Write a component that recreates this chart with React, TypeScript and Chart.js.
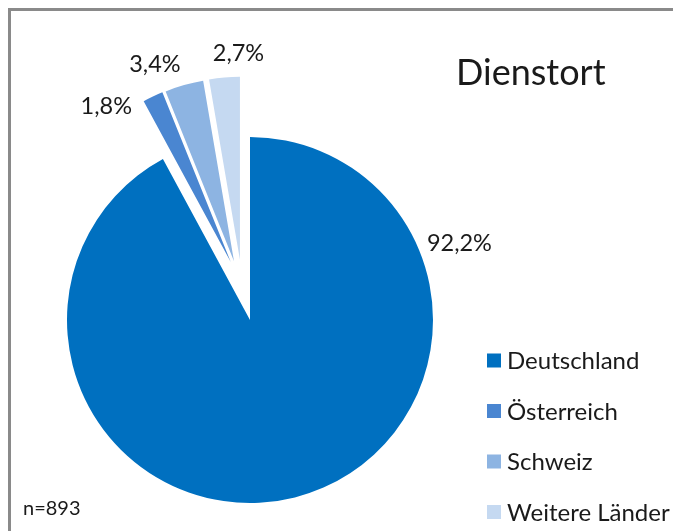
import React, { useEffect, useRef } from 'react';
import { Chart, registerables } from 'chart.js';

Chart.register(...registerables);

// ---- data ----
const categories = ['Deutschland', 'Österreich', 'Schweiz', 'Weitere Länder'];
const shares = [92.2, 1.8, 3.4, 2.7];
const valueLabels = ['92,2%', '1,8%', '3,4%', '2,7%'];
const chartTitle = 'Dienstort';
const sampleNote = 'n=893';

// ---- styles ----
const sliceColors = ['#0070C0', '#4A86D1', '#8DB4E2', '#C5D9F1'];
const explodeDistance = [0, 61, 61, 61];
const explodeDirection: (number | null)[] = [null, -108.4, -105.2, -99.5];
const labelAngle = [-20.1, -128.7, -111.9, -90.4];
const labelRadius = [223, 199, 212, 206];
const FONT = 'Lato, "Open Sans", sans-serif';
const TEXT = '#1a1a1a';

const rad = (d: number) => (d * Math.PI) / 180;

function explodedCenter(el: any, i: number) {
  const d = explodeDistance[i] || 0;
  const dir = explodeDirection[i];
  const a = dir == null ? (el.startAngle + el.endAngle) / 2 : rad(dir);
  return { x: el.x + Math.cos(a) * d, y: el.y + Math.sin(a) * d, a };
}

const explodePlugin = {
  id: 'explodeSlices',
  beforeDatasetDraw(chart: any, args: any) {
    args.meta.data.forEach((el: any, i: number) => {
      if (el.__exploded) return;
      const orig = el.draw;
      el.draw = function (ctx: CanvasRenderingContext2D, area: any) {
        const c = explodedCenter(this, i);
        ctx.save();
        ctx.translate(c.x - this.x, c.y - this.y);
        orig.call(this, ctx, area);
        ctx.restore();
      };
      el.__exploded = true;
    });
  },
};

const decorPlugin = {
  id: 'decor',
  afterDraw(chart: any) {
    const ctx: CanvasRenderingContext2D = chart.ctx;
    ctx.save();
    // frame
    ctx.strokeStyle = '#8a8a8a';
    ctx.lineWidth = 3;
    ctx.beginPath();
    ctx.moveTo(9.5, 800);
    ctx.lineTo(9.5, 9.5);
    ctx.lineTo(900, 9.5);
    ctx.stroke();

    // title
    ctx.fillStyle = TEXT;
    ctx.textAlign = 'left';
    ctx.textBaseline = 'alphabetic';
    ctx.font = `36px ${FONT}`;
    ctx.fillText(chartTitle, 456, 85);

    // value labels
    const meta = chart.getDatasetMeta(0);
    ctx.font = `23.5px ${FONT}`;
    ctx.textAlign = 'center';
    ctx.textBaseline = 'middle';
    meta.data.forEach((el: any, i: number) => {
      const c = explodedCenter(el, i);
      const a = rad(labelAngle[i]);
      ctx.fillText(valueLabels[i], c.x + Math.cos(a) * labelRadius[i], c.y + Math.sin(a) * labelRadius[i]);
    });

    // legend
    const labels = chart.data.labels as string[];
    const colors = chart.data.datasets[0].backgroundColor as string[];
    ctx.textAlign = 'left';
    ctx.font = `24px ${FONT}`;
    labels.forEach((lab, i) => {
      const yc = 360.5 + i * 50.5;
      ctx.fillStyle = colors[i];
      ctx.fillRect(487, yc - 7, 14, 14);
      ctx.fillStyle = TEXT;
      ctx.fillText(lab, 507, yc + 1);
    });

    // n
    ctx.font = `20px ${FONT}`;
    ctx.fillText(sampleNote, 23, 509);
    ctx.restore();
  },
};

export default function App() {
  const ref = useRef<HTMLCanvasElement | null>(null);
  useEffect(() => {
    if (!ref.current) return;
    const chart = new Chart(ref.current, {
      type: 'pie',
      data: {
        labels: categories,
        datasets: [
          {
            data: shares,
            backgroundColor: sliceColors,
            borderWidth: 0,
            clip: false as any,
          },
        ],
      },
      options: {
        responsive: false,
        animation: false,
        radius: 183,
        layout: { padding: { left: 0, right: 173, top: 109, bottom: 0 } },
        plugins: {
          legend: { display: false },
          title: { display: false },
          tooltip: { enabled: false },
        },
        events: [],
      } as any,
      plugins: [explodePlugin, decorPlugin],
    });
    return () => chart.destroy();
  }, []);
  return (
    <div style={{ position: 'absolute', left: 0, top: 0, width: 673, height: 531, background: '#fff' }}>
      <canvas ref={ref} width={673} height={531} style={{ display: 'block' }} />
    </div>
  );
}
